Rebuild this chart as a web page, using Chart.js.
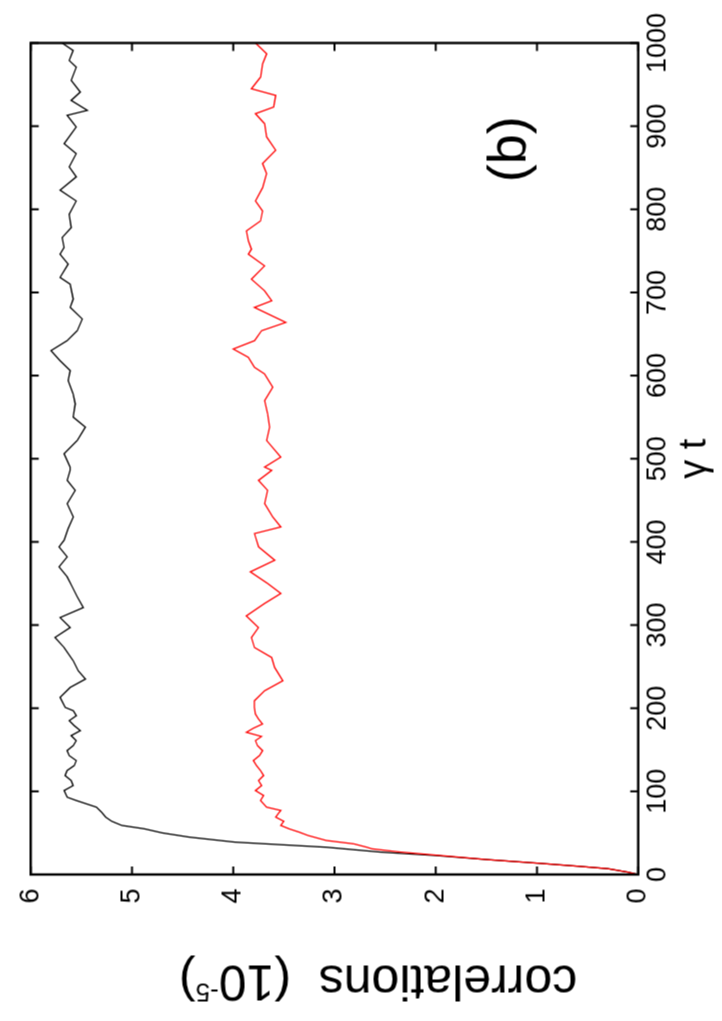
<!DOCTYPE html>
<html lang="en">
<head>
  <meta charset="UTF-8">
  <title>Correlations vs gamma t (b)</title>
  <script src="https://cdn.jsdelivr.net/npm/chart.js"></script>
  <style>
    html, body {
      margin: 0;
      padding: 0;
      background: #fff;
      overflow: hidden;
      width: 722px;
      height: 1021px;
    }
    /* the figure is drawn landscape and turned a quarter turn, like the original */
    #wrap {
      position: absolute;
      left: -149.5px;
      top: 149.5px;
      width: 1021px;
      height: 722px;
      transform: rotate(-90deg);
      transform-origin: 50% 50%;
    }
  </style>
</head>
<body>

<div id="wrap"><canvas id="myChart" width="1021" height="722"></canvas></div>

<script>
/****************************************************************
  DATA
  t = gamma t, values in units of 1e-5
****************************************************************/
const tBlack = [0, 3, 7, 10, 13.6, 18, 22.8, 27, 32.8, 38.9, 44.9, 50, 55, 59, 64, 69, 75, 81, 89, 93,
  101, 107, 113, 119, 125, 131, 137, 143, 149, 155, 161, 167, 173, 179, 185, 191, 197,
  201, 213, 225, 235, 245, 257, 273, 285, 297, 309, 321, 334, 346, 358, 370, 382, 394, 402,
  416, 430, 446, 462, 474, 486, 490, 506, 522, 538, 550, 566, 578, 594, 606, 618, 630, 642,
  654, 668, 682, 692, 710, 718, 734, 746, 754, 766, 778, 794, 810, 823, 839, 851, 867, 879,
  899, 913, 919, 931, 941, 955, 971, 979, 991, 1000];
const vBlack = [0, 0.11, 0.30, 0.60, 0.99, 1.50, 2.00, 2.55, 3.08, 3.98, 4.43, 4.70, 4.88, 5.10, 5.20, 5.26, 5.30, 5.35, 5.55, 5.64,
  5.67, 5.58, 5.60, 5.66, 5.64, 5.57, 5.55, 5.62, 5.64, 5.58, 5.55, 5.60, 5.51, 5.57, 5.62, 5.55, 5.58,
  5.66, 5.71, 5.61, 5.46, 5.53, 5.58, 5.67, 5.76, 5.61, 5.71, 5.48, 5.54, 5.59, 5.64, 5.72, 5.64, 5.72, 5.67,
  5.63, 5.58, 5.64, 5.56, 5.64, 5.61, 5.61, 5.67, 5.54, 5.46, 5.58, 5.56, 5.58, 5.63, 5.61, 5.71, 5.80, 5.64,
  5.54, 5.49, 5.61, 5.58, 5.61, 5.71, 5.63, 5.71, 5.67, 5.69, 5.60, 5.62, 5.55, 5.71, 5.55, 5.62, 5.55, 5.67,
  5.55, 5.64, 5.44, 5.60, 5.51, 5.60, 5.55, 5.62, 5.58, 5.69];

const tRed = [0, 3, 7, 10, 13.6, 18, 22.8, 27, 30.9, 32.8, 36.9, 40.9, 46.9, 51, 55, 59, 64, 69, 74, 77, 81, 89, 95,
  101, 107, 113, 119, 125, 131, 137, 143, 149, 155, 161, 166, 171, 176, 181, 187, 193,
  201, 209, 221, 233, 249, 261, 273, 285, 297, 311, 326, 338, 350, 364, 378, 394, 410, 418,
  430, 446, 462, 474, 486, 490, 502, 522, 538, 554, 570, 586, 602, 610, 622, 632, 642, 654,
  664, 682, 690, 702, 716, 732, 746, 752, 762, 774, 786, 798, 810, 826, 843, 855, 871, 887,
  903, 915, 923, 937, 945, 959, 975, 987, 1000];
const vRed = [0, 0.11, 0.30, 0.60, 0.99, 1.50, 1.95, 2.35, 2.63, 2.68, 2.81, 3.08, 3.26, 3.35, 3.45, 3.53, 3.50, 3.58, 3.55, 3.53, 3.67, 3.73, 3.70,
  3.78, 3.72, 3.75, 3.70, 3.73, 3.77, 3.80, 3.74, 3.71, 3.76, 3.78, 3.72, 3.87, 3.80, 3.71, 3.75, 3.78,
  3.79, 3.79, 3.69, 3.51, 3.59, 3.62, 3.79, 3.82, 3.75, 3.87, 3.69, 3.53, 3.66, 3.83, 3.59, 3.75, 3.79, 3.53,
  3.61, 3.69, 3.66, 3.75, 3.62, 3.69, 3.53, 3.67, 3.64, 3.66, 3.69, 3.61, 3.69, 3.79, 3.85, 4.00, 3.79, 3.72,
  3.48, 3.79, 3.62, 3.69, 3.82, 3.69, 3.85, 3.82, 3.85, 3.87, 3.73, 3.71, 3.78, 3.71, 3.67, 3.71, 3.58, 3.67,
  3.69, 3.78, 3.60, 3.58, 3.82, 3.73, 3.71, 3.67, 3.78];

const xTitle = 'γ t';
const yTitleMain = 'correlations  (10';
const yTitleSup = '-5';
const yTitleEnd = ')';
const panelLabel = '(b)';

const FONT = '"Liberation Sans", Arial, sans-serif';

/****************************************************************
  FRAME, INWARD TICKS AND TEXT (gnuplot look)
****************************************************************/
const framePlugin = {
  id: 'frame',
  afterDraw(chart) {
    const ctx = chart.ctx;
    const a = chart.chartArea;
    const xs = chart.scales.x, ys = chart.scales.y;
    ctx.save();
    ctx.strokeStyle = '#000';
    ctx.lineWidth = 2.4;
    ctx.strokeRect(a.left, a.top, a.right - a.left, a.bottom - a.top);

    // inward ticks on all four sides
    ctx.lineWidth = 2;
    const len = 8;
    ctx.beginPath();
    xs.ticks.forEach(t => {
      const p = xs.getPixelForValue(t.value);
      ctx.moveTo(p, a.bottom); ctx.lineTo(p, a.bottom - len);
      ctx.moveTo(p, a.top);    ctx.lineTo(p, a.top + len);
    });
    ys.ticks.forEach(t => {
      const p = ys.getPixelForValue(t.value);
      ctx.moveTo(a.left, p);  ctx.lineTo(a.left + len, p);
      ctx.moveTo(a.right, p); ctx.lineTo(a.right - len, p);
    });
    ctx.stroke();

    ctx.fillStyle = '#000';

    // x title
    ctx.font = '38px ' + FONT;
    ctx.textAlign = 'center';
    ctx.textBaseline = 'alphabetic';
    ctx.fillText(xTitle, (a.left + a.right) / 2, 705);

    // y title with superscript, turned to read bottom to top
    ctx.save();
    ctx.translate(56, 377.5);
    ctx.rotate(-Math.PI / 2);
    ctx.font = '50px ' + FONT;
    const w1 = ctx.measureText(yTitleMain).width;
    const w3 = ctx.measureText(yTitleEnd).width;
    ctx.font = '26px ' + FONT;
    const w2 = ctx.measureText(yTitleSup).width;
    let x0 = -(w1 + w2 + w3) / 2;
    ctx.textAlign = 'left';
    ctx.font = '50px ' + FONT;
    ctx.fillText(yTitleMain, x0, 0);
    ctx.font = '26px ' + FONT;
    ctx.fillText(yTitleSup, x0 + w1, -18);
    ctx.font = '50px ' + FONT;
    ctx.fillText(yTitleEnd, x0 + w1 + w2, 0);
    ctx.restore();

    // panel label
    ctx.font = '54px ' + FONT;
    ctx.textAlign = 'center';
    ctx.fillText(panelLabel, xs.getPixelForValue(900) - 23, 525);

    ctx.restore();
  }
};

const redPoints = tRed.map((t, i) => ({ x: t, y: vRed[i] }));
const blackPoints = tBlack.map((t, i) => ({ x: t, y: vBlack[i] }));

new Chart(document.getElementById('myChart').getContext('2d'), {
  type: 'scatter',
  data: {
    datasets: [
      { data: redPoints, showLine: true, borderColor: '#ff0000', backgroundColor: '#ff0000',
        borderWidth: 1.3, pointRadius: 0, tension: 0 },
      { data: blackPoints, showLine: true, borderColor: '#000000', backgroundColor: '#000000',
        borderWidth: 1.3, pointRadius: 0, tension: 0 }
    ]
  },
  options: {
    responsive: false,
    animation: false,
    devicePixelRatio: 1,
    layout: { padding: { top: 23.3, right: 42.5, left: 0, bottom: 0 } },
    plugins: { legend: { display: false }, tooltip: { enabled: false } },
    scales: {
      x: {
        type: 'linear', min: 0, max: 1000,
        grid: { display: false, drawTicks: false },
        border: { display: false },
        ticks: { stepSize: 100, maxRotation: 0, padding: 4, color: '#000',
                 font: { family: FONT, size: 27 },
                 callback: v => String(v) },
        afterFit(scale) { scale.height = 722 - 637.7; }
      },
      y: {
        type: 'linear', min: 0, max: 6,
        grid: { display: false, drawTicks: false },
        border: { display: false },
        ticks: { stepSize: 1, padding: 14, color: '#000',
                 font: { family: FONT, size: 27 },
                 callback: v => String(v) },
        afterFit(scale) { scale.width = 147; }
      }
    }
  },
  plugins: [framePlugin]
});
</script>
</body>
</html>
